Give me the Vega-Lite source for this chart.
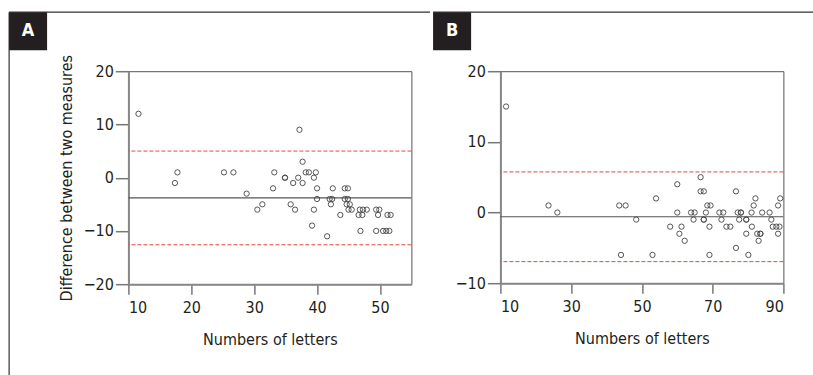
{
  "$schema": "https://vega.github.io/schema/vega-lite/v6.json",
  "background": "white",
  "padding": {"left": 7.4, "top": 10.2, "right": 0, "bottom": 0},
  "spacing": 0,
  "config": {
    "font": "DejaVu Sans Condensed, sans-serif",
    "view": {"stroke": "#555555", "strokeWidth": 1},
    "axis": {
      "grid": false,
      "labelFont": "DejaVu Sans Condensed, sans-serif",
      "titleFont": "DejaVu Sans Condensed, sans-serif",
      "labelFontSize": 16,
      "titleFontSize": 16,
      "titleFontWeight": "normal",
      "labelColor": "#231f20",
      "titleColor": "#231f20",
      "domainColor": "#888888",
      "domainWidth": 2,
      "tickColor": "#777777",
      "tickWidth": 1.5
    },
    "axisY": {"tickSize": 13, "labelPadding": 2, "titlePadding": 9},
    "axisX": {"tickSize": 10, "labelPadding": 5, "titlePadding": 16}
  },
  "datasets": {
    "A": [
      {"letters": 11.6, "difference": 12},
      {"letters": 17.4, "difference": -1},
      {"letters": 17.8, "difference": 1},
      {"letters": 25.2, "difference": 1},
      {"letters": 26.7, "difference": 1},
      {"letters": 28.8, "difference": -3},
      {"letters": 30.5, "difference": -6},
      {"letters": 31.3, "difference": -5},
      {"letters": 33.0, "difference": -2},
      {"letters": 33.2, "difference": 1},
      {"letters": 34.9, "difference": 0},
      {"letters": 34.9, "difference": 0},
      {"letters": 35.8, "difference": -5},
      {"letters": 36.2, "difference": -1},
      {"letters": 36.5, "difference": -6},
      {"letters": 37.0, "difference": 0},
      {"letters": 37.2, "difference": 9},
      {"letters": 37.7, "difference": 3},
      {"letters": 37.7, "difference": -1},
      {"letters": 38.2, "difference": 1},
      {"letters": 38.7, "difference": 1},
      {"letters": 39.5, "difference": 0},
      {"letters": 39.8, "difference": 1},
      {"letters": 40.0, "difference": -2},
      {"letters": 40.0, "difference": -4},
      {"letters": 39.5, "difference": -6},
      {"letters": 39.2, "difference": -9},
      {"letters": 41.6, "difference": -11},
      {"letters": 42.0, "difference": -4},
      {"letters": 42.4, "difference": -4},
      {"letters": 42.5, "difference": -2},
      {"letters": 42.2, "difference": -5},
      {"letters": 43.7, "difference": -7},
      {"letters": 44.4, "difference": -2},
      {"letters": 44.9, "difference": -2},
      {"letters": 44.4, "difference": -4},
      {"letters": 44.9, "difference": -4},
      {"letters": 44.7, "difference": -5},
      {"letters": 45.2, "difference": -5},
      {"letters": 45.0, "difference": -6},
      {"letters": 45.5, "difference": -6},
      {"letters": 46.8, "difference": -6},
      {"letters": 47.3, "difference": -6},
      {"letters": 47.9, "difference": -6},
      {"letters": 46.6, "difference": -7},
      {"letters": 47.2, "difference": -7},
      {"letters": 46.9, "difference": -10},
      {"letters": 49.4, "difference": -6},
      {"letters": 49.9, "difference": -6},
      {"letters": 49.7, "difference": -7},
      {"letters": 51.2, "difference": -7},
      {"letters": 51.7, "difference": -7},
      {"letters": 49.4, "difference": -10},
      {"letters": 50.5, "difference": -10},
      {"letters": 51.0, "difference": -10},
      {"letters": 51.5, "difference": -10}
    ],
    "B": [
      {"letters": 11.6, "difference": 15},
      {"letters": 23.6, "difference": 1},
      {"letters": 26.1, "difference": 0},
      {"letters": 43.6, "difference": 1},
      {"letters": 45.4, "difference": 1},
      {"letters": 44.1, "difference": -6},
      {"letters": 48.4, "difference": -1},
      {"letters": 53.0, "difference": -6},
      {"letters": 54.0, "difference": 2},
      {"letters": 58.0, "difference": -2},
      {"letters": 60.0, "difference": 4},
      {"letters": 60.0, "difference": 0},
      {"letters": 60.6, "difference": -3},
      {"letters": 61.2, "difference": -2},
      {"letters": 62.1, "difference": -4},
      {"letters": 63.9, "difference": 0},
      {"letters": 64.9, "difference": 0},
      {"letters": 64.6, "difference": -1},
      {"letters": 66.6, "difference": 5},
      {"letters": 66.6, "difference": 3},
      {"letters": 67.5, "difference": 3},
      {"letters": 67.5, "difference": -1},
      {"letters": 67.5, "difference": -1},
      {"letters": 68.1, "difference": 0},
      {"letters": 68.5, "difference": 1},
      {"letters": 69.4, "difference": 1},
      {"letters": 69.1, "difference": -2},
      {"letters": 69.1, "difference": -6},
      {"letters": 71.9, "difference": 0},
      {"letters": 73.0, "difference": 0},
      {"letters": 72.5, "difference": -1},
      {"letters": 73.9, "difference": -2},
      {"letters": 75.0, "difference": -2},
      {"letters": 76.6, "difference": 3},
      {"letters": 76.6, "difference": -5},
      {"letters": 77.1, "difference": 0},
      {"letters": 78.0, "difference": 0},
      {"letters": 78.0, "difference": 0},
      {"letters": 77.5, "difference": -1},
      {"letters": 79.5, "difference": -1},
      {"letters": 79.5, "difference": -1},
      {"letters": 79.5, "difference": -3},
      {"letters": 80.1, "difference": -6},
      {"letters": 81.0, "difference": 0},
      {"letters": 81.1, "difference": -2},
      {"letters": 81.6, "difference": 1},
      {"letters": 82.1, "difference": 2},
      {"letters": 82.6, "difference": -3},
      {"letters": 83.5, "difference": -3},
      {"letters": 83.5, "difference": -3},
      {"letters": 83.0, "difference": -4},
      {"letters": 84.0, "difference": 0},
      {"letters": 86.1, "difference": 0},
      {"letters": 86.6, "difference": -1},
      {"letters": 87.0, "difference": -2},
      {"letters": 88.0, "difference": -2},
      {"letters": 88.9, "difference": -2},
      {"letters": 88.5, "difference": -3},
      {"letters": 88.5, "difference": 1},
      {"letters": 89.1, "difference": 2}
    ],
    "limits": [
      {"panel": "A", "kind": "mean", "difference": -3.8},
      {"panel": "A", "kind": "limit", "difference": 5.0},
      {"panel": "A", "kind": "limit", "difference": -12.6},
      {"panel": "B", "kind": "mean", "difference": -0.6},
      {"panel": "B", "kind": "limit", "difference": 5.75},
      {"panel": "B", "kind": "limit", "difference": -6.95}
    ]
  },
  "hconcat": [
    {
      "width": 283,
      "height": 213,
      "layer": [
        {
          "data": {"values": [{}]},
          "mark": {"type": "rule", "color": "#333333", "strokeWidth": 1.2},
          "encoding": {"x": {"datum": -8.97}, "x2": {"datum": 57.97}, "y": {"datum": 31.08}}
        },
        {
          "data": {"values": [{}]},
          "mark": {"type": "rule", "color": "#333333", "strokeWidth": 1.2},
          "encoding": {"x": {"datum": -8.97}, "y": {"datum": 31.08}, "y2": {"datum": -38}}
        },
        {
          "data": {"values": [{}]},
          "mark": {"type": "rect", "color": "#231f20"},
          "encoding": {"x": {"datum": -8.97}, "x2": {"datum": -2.93}, "y": {"datum": 31.08}, "y2": {"datum": 23.94}}
        },
        {
          "data": {"values": [{}]},
          "mark": {"type": "text", "color": "white", "fontSize": 18, "fontWeight": "bold", "align": "center", "baseline": "middle", "font": "DejaVu Sans Condensed, sans-serif"},
          "encoding": {"x": {"datum": -5.95}, "y": {"datum": 27.51}, "text": {"value": "A"}}
        },
        {
          "data": {"name": "limits"},
          "transform": [{"filter": "datum.panel === 'A' && datum.kind === 'limit'"}],
          "mark": {"type": "rule", "color": "#e8463e", "strokeWidth": 1, "strokeDash": [4, 2]},
          "encoding": {"y": {"field": "difference", "type": "quantitative"}}
        },
        {
          "data": {"name": "limits"},
          "transform": [{"filter": "datum.panel === 'A' && datum.kind === 'mean'"}],
          "mark": {"type": "rule", "color": "#555555", "strokeWidth": 1.2},
          "encoding": {"y": {"field": "difference", "type": "quantitative"}}
        },
        {
          "data": {"name": "A"},
          "mark": {"type": "point", "shape": "circle", "filled": false, "size": 28, "strokeWidth": 0.9, "color": "#444444", "opacity": 1},
          "encoding": {
            "x": {"field": "letters", "type": "quantitative", "scale": {"domain": [10, 55], "nice": false, "zero": false}, "axis": {"title": "Numbers of letters", "values": [10, 20, 30, 40, 50]}},
            "y": {"field": "difference", "type": "quantitative", "scale": {"domain": [-20, 20], "nice": false, "zero": false}, "axis": {"title": "Difference between two measures", "values": [-20, -10, 0, 10, 20]}}
          }
        }
      ]
    },
    {
      "width": 283,
      "height": 212,
      "layer": [
        {
          "data": {"values": [{}]},
          "mark": {"type": "rule", "color": "#333333", "strokeWidth": 1.2},
          "encoding": {"x": {"datum": -9.03}, "x2": {"datum": 100}, "y": {"datum": 28.35}}
        },
        {
          "data": {"values": [{}]},
          "mark": {"type": "rect", "color": "#231f20"},
          "encoding": {"x": {"datum": -9.03}, "x2": {"datum": 1.72}, "y": {"datum": 28.35}, "y2": {"datum": 22.97}}
        },
        {
          "data": {"values": [{}]},
          "mark": {"type": "text", "color": "white", "fontSize": 18, "fontWeight": "bold", "align": "center", "baseline": "middle", "font": "DejaVu Sans Condensed, sans-serif"},
          "encoding": {"x": {"datum": -3.65}, "y": {"datum": 25.66}, "text": {"value": "B"}}
        },
        {
          "data": {"name": "limits"},
          "transform": [{"filter": "datum.panel === 'B' && datum.kind === 'limit'"}],
          "mark": {"type": "rule", "color": "#e8463e", "strokeWidth": 1, "strokeDash": [4, 2]},
          "encoding": {"y": {"field": "difference", "type": "quantitative"}}
        },
        {
          "data": {"name": "limits"},
          "transform": [{"filter": "datum.panel === 'B' && datum.kind === 'mean'"}],
          "mark": {"type": "rule", "color": "#555555", "strokeWidth": 1.2},
          "encoding": {"y": {"field": "difference", "type": "quantitative"}}
        },
        {
          "data": {"name": "B"},
          "mark": {"type": "point", "shape": "circle", "filled": false, "size": 28, "strokeWidth": 0.9, "color": "#444444", "opacity": 1},
          "encoding": {
            "x": {"field": "letters", "type": "quantitative", "scale": {"domain": [10, 90], "nice": false, "zero": false}, "axis": {"title": "Numbers of letters", "values": [10, 30, 50, 70, 90]}},
            "y": {"field": "difference", "type": "quantitative", "scale": {"domain": [-10, 20], "nice": false, "zero": false}, "axis": {"title": null, "values": [-10, 0, 10, 20]}}
          }
        }
      ]
    }
  ]
}
